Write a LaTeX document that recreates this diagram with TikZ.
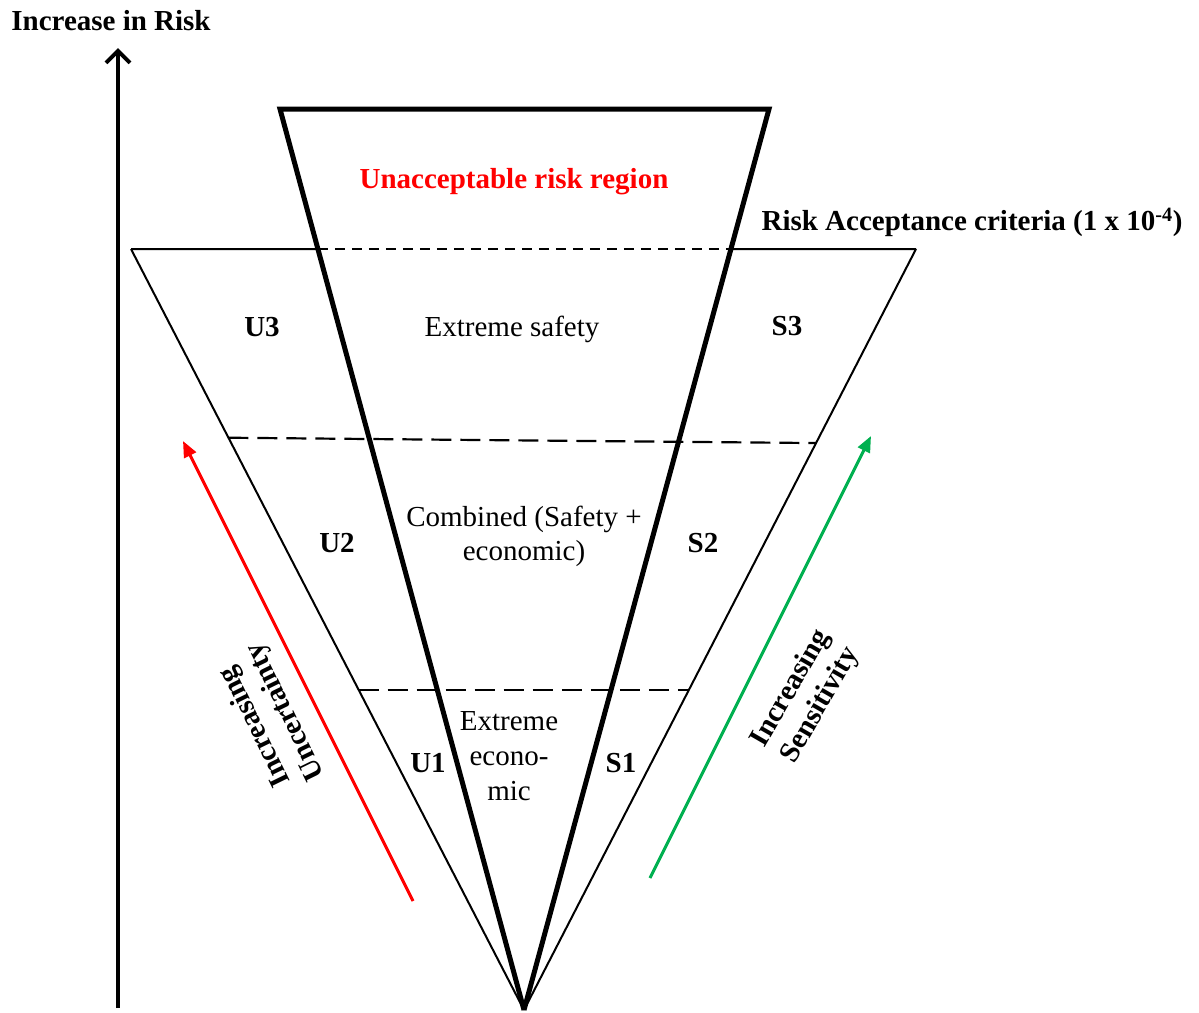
\documentclass[tikz,border=0pt]{standalone}
\usepackage{fontspec}
\setmainfont{Liberation Serif}
\usetikzlibrary{arrows.meta,calc}
\definecolor{riskred}{RGB}{255,0,0}
\definecolor{sensgreen}{RGB}{0,176,80}
\begin{document}
\begin{tikzpicture}[x=1pt,y=-1pt,
  lbl/.style={font=\fontsize{29}{34}\selectfont, inner sep=0pt, align=center},
  blbl/.style={font=\fontsize{29}{34}\selectfont\bfseries, inner sep=0pt, align=center},
  outerline/.style={line width=2pt},
  innerline/.style={line width=5pt, line join=miter},
  topdash/.style={line width=2.5pt, dash pattern=on 10pt off 7pt},
  middash/.style={line width=2.2pt, dash pattern=on 20pt off 9pt},
  riskarrow/.style={line width=4pt, -{Straight Barb[length=12pt,width=24pt,line width=4pt]}},
  trendarrow/.style={line width=3pt, -{Triangle[length=16pt,width=13pt]}}
]
\useasboundingbox (0,0) rectangle (1199,1012);

% apex and corners of the two funnels
\coordinate (A) at (524,1010);
\coordinate (OL) at (131,249);
\coordinate (OR) at (916,249);
\coordinate (IL) at (280,109);
\coordinate (IR) at (769,109);
\coordinate (CL) at ($(IL)!0.1554!(A)$);
\coordinate (CR) at ($(IR)!0.1554!(A)$);

% band boundaries on the outer funnel
\coordinate (D1L) at ($(OL)!0.248!(A)$);
\coordinate (D1R) at ($(OR)!0.255!(A)$);
\coordinate (D2L) at ($(OL)!0.5795!(A)$);
\coordinate (D2R) at ($(OR)!0.5795!(A)$);

% outer funnel
\draw[outerline] (CL) -- (OL);
\draw[outerline] (OL) -- (A);
\draw[outerline] (OR) -- (A);
\draw[outerline] (CR) -- (OR);
\draw[topdash] (CL) -- (CR);

% band separators
\draw[middash] (D1L) -- (D1R);
\draw[middash] (D2L) -- (D2R);

% inner funnel
\draw[innerline] (A) -- (IL) -- (IR) -- (A);

% risk axis
\coordinate (vb) at (118,1008);
\coordinate (vt) at (118,48);
\draw[riskarrow] (vb) -- (vt);
\node[blbl] (tRisk) at (111,21) {Increase in Risk};

% trend arrows
\coordinate (ub) at (413,901);
\coordinate (ut) at (183,441);
\draw[trendarrow, riskred] (ub) -- (ut);
\coordinate (sb) at (650,878);
\coordinate (st) at (871,436);
\draw[trendarrow, sensgreen] (sb) -- (st);

% region labels
\node[blbl, text=riskred] (tUnacc) at (514,182) {Unacceptable risk region};
\node[blbl] (tCrit) at (972,222) {Risk Acceptance criteria (1 x 10\textsuperscript{-4})};
\node[lbl] (tSafe) at (512,329) {Extreme safety};
\node[lbl] (tComb) at (524,536) {Combined (Safety +\\economic)};
\node[lbl, font=\fontsize{29}{35}\selectfont] (tEcon) at (509,756) {Extreme\\econo-\\mic};

\node[blbl] (U3) at (262,327) {U3};
\node[blbl] (S3) at (787,326) {S3};
\node[blbl] (U2) at (337,543) {U2};
\node[blbl] (S2) at (703,543) {S2};
\node[blbl] (U1) at (428,763) {U1};
\node[blbl] (S1) at (621,763) {S1};

% trend captions
\node[blbl, rotate=116] (tUnc) at (271,719) {Increasing\\Uncertainty};
\node[blbl, rotate=60] (tSens) at (806,697) {Increasing\\Sensitivity};
\end{tikzpicture}
\end{document}
